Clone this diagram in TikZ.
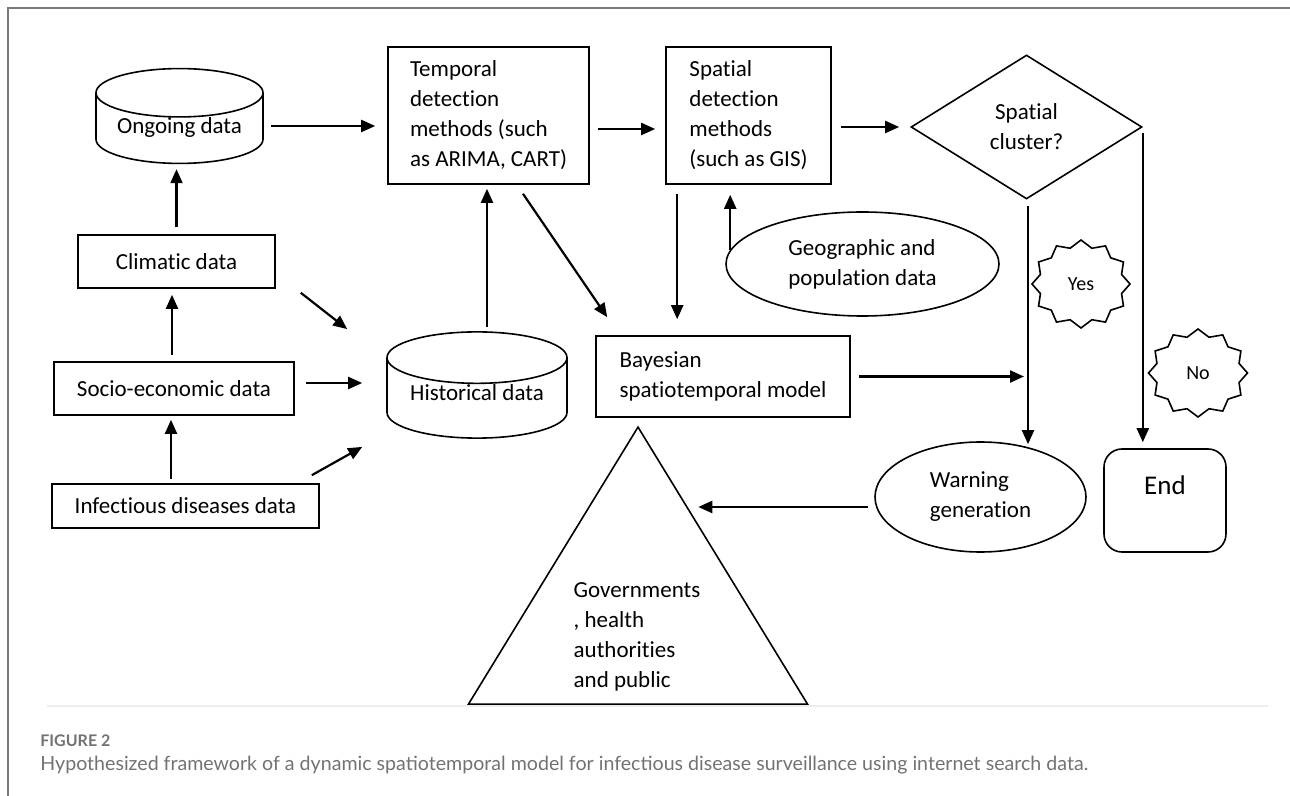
\documentclass[tikz,border=0pt]{standalone}
\usepackage{fontspec}
\setmainfont{Carlito}[Ligatures=NoCommon]
\newfontfamily\capfont{Lato}
\usepackage{tikz}
\usetikzlibrary{shapes.geometric, shapes.symbols, arrows.meta, calc}
\definecolor{framegray}{HTML}{7A7A7A}
\definecolor{capgray}{HTML}{727272}
\definecolor{rulegray}{HTML}{EDEDED}

\begin{document}
\begin{tikzpicture}[
                x = 0.5pt, y = -0.5pt,
                every node/.style = {font=\fontsize{11.5}{15}\selectfont},
                B/.style = {rectangle, draw, line width=0.8pt, align=left, inner sep=0pt},
                D/.style = {cylinder, shape border rotate=90, aspect=0.35, draw, line width=0.8pt, anchor=shape center, inner ysep=0pt},
                E/.style = {ellipse, draw, line width=0.8pt, align=left, inner sep=0pt},
                S/.style = {starburst, starburst points=12, starburst point height=3.5pt, random starburst=0,
                            draw, line width=0.8pt, inner sep=0pt, font=\fontsize{10}{12}\selectfont},
                A/.style = {-{Triangle[length=7pt, width=6pt]}, line width=1.1pt}
                    ]
                \useasboundingbox (0,0) rectangle (1290,796);
                \draw[framegray, line width=1pt] (7.5,796) -- (7.5,8.5) -- (1290,8.5);
                \begin{scope}[nodes=B]
                \node (climatic) [minimum width=98.5pt, minimum height=26.5pt] at (176.5,261.5) {Climatic data};
                \node (socio) [minimum width=120pt, minimum height=26.5pt] at (174,388.5) {Socio-economic data};
                \node (infect) [minimum width=133.5pt, minimum height=22pt] at (185.5,506) {Infectious diseases data};
                \node (temporal) [minimum width=100.5pt, minimum height=68.5pt] at (488.5,115.5) {Temporal\\detection\\methods (such\\as ARIMA, CART)};
                \node (spatial) [minimum width=82.5pt, minimum height=68.5pt] at (748.5,115.5) {Spatial\\detection\\methods\\(such as GIS)};
                \node (bayes) [minimum width=127pt, minimum height=40.5pt] at (723,376.5) {Bayesian\\spatiotemporal model};
                \end{scope}
                \node (ongoing) [D, text depth=7.5pt, minimum width=83.5pt, minimum height=46pt] at (179.5,116) {Ongoing data};
                \node (hist) [D, text depth=11pt, minimum width=90pt, minimum height=45pt] at (477,385) {Historical data};
                \node (cluster) [diamond, draw, line width=0.8pt, minimum width=115.5pt, minimum height=72pt, inner sep=0pt, align=center] at (1026.5,127) {Spatial\\cluster?};
                \node (geo) [E, minimum width=136.5pt, minimum height=52pt] at (862.5,264) {Geographic and\\population data};
                \node (warn) [E, minimum width=105.5pt, minimum height=55pt] at (980.5,497) {Warning\\generation};
                \node (yes) [S, minimum width=49pt, minimum height=44pt] at (1081,284) {Yes};
                \node (no) [S, minimum width=49.5pt, minimum height=44pt] at (1198,373) {No};
                \node (end) [draw, line width=0.8pt, rounded corners=9pt, minimum width=61pt, minimum height=51.5pt, align=center, font=\fontsize{13.5}{15}\selectfont] at (1165,500.5) {End\\\mbox{}};
                \node (gov) [isosceles triangle, shape border rotate=90, isosceles triangle stretches, draw, line width=0.8pt, minimum width=169.5pt, minimum height=138.5pt, inner sep=0pt, anchor=apex] at (638,425) {};
                \node (govtxt) [align=left] at (637,637) {Governments\\, health\\authorities\\and public};
                \coordinate (govin) at ($(gov.apex)!0.3!(gov.right corner)$);
                \draw[A, shorten <=3.5pt, shorten >=6pt] ($(temporal.west -| ongoing.east)+(0,10.5)$) to ($(temporal.west)+(0,10.5)$);
                \draw[A, shorten <=3.5pt, shorten >=2.5pt] (climatic.north) to (climatic.north |- ongoing.south);
                \draw[A, shorten <=3pt, shorten >=3pt] ($(socio.north)+(-2,0)$) to ($(socio.north |- climatic.south)+(-2,0)$);
                \draw[A, shorten <=2pt, shorten >=2pt] ($(socio.south |- infect.north)+(-3,0)$) to ($(socio.south)+(-3,0)$);
                \draw[A, shorten <=5.5pt, shorten >=12pt] ($(socio.east)+(0,-5.5)$) to ($(socio.east -| hist.west)+(0,-5.5)$);
                \draw[A] ($(climatic.south east)+(25,4)$) to ($(hist.west |- hist.north)+(-39,-2)$);
                \draw[A] ($(infect.north east)+(-8,-8)$) to ($(hist.west |- hist.south)+(-24,8)$);
                \draw[A, shorten <=2pt, shorten >=2pt] ($(hist.north)+(10,0)$) to ($(hist.north |- temporal.south)+(10,0)$);
                \draw[A] ($(temporal.south)+(34.5,9)$) to ($(bayes.north west)+(12,-18)$);
                \draw[A, shorten <=4pt, shorten >=5pt] ($(temporal.east)+(0,13.5)$) to ($(temporal.east -| spatial.west)+(0,13.5)$);
                \draw[A, shorten <=4.5pt, shorten >=8pt] ($(spatial.south west)+(12,0)$) to ($(spatial.south west |- bayes.north)+(12,0)$);
                \draw[A, shorten >=5pt] ($(geo.west)+(5,-14)$) to ($(geo.west |- spatial.south)+(5,0)$);
                \draw[A, shorten <=4.5pt, shorten >=5.5pt] ($(spatial.east)+(0,11.5)$) to ($(spatial.east -| cluster.west)+(0,11.5)$);
                \draw[A, shorten <=3pt, shorten >=-1.5pt] ($(cluster.south)+(1.5,0)$) to ($(cluster.south |- warn.north)+(1.5,0)$);
                \draw[A, shorten >=3pt] ($(cluster.east)+(0,6)$) to (cluster.east |- end.north);
                \draw[A, shorten <=4pt, shorten >=1.25pt] (bayes.east) to (bayes.east -| cluster.south);
                \draw[A, shorten <=3pt, shorten >=4.5pt] ($(warn.west)+(0,10)$) to ($(warn.west -| govin)+(0,10)$);
                \draw[rulegray, line width=1pt] (47,706) -- (1268,706);
                \node (fig) [anchor=west, inner sep=0pt, text=capgray, font=\capfont\bfseries\fontsize{8}{9}\selectfont] at (40,741) {FIGURE 2};
                \node (caption) [anchor=west, inner sep=0pt, text=capgray, font=\capfont\fontsize{9.8}{11}\selectfont] at (40,765) {Hypothesized framework of a dynamic spatiotemporal model for infectious disease surveillance using internet search data.};
            \end{tikzpicture}
\end{document}
